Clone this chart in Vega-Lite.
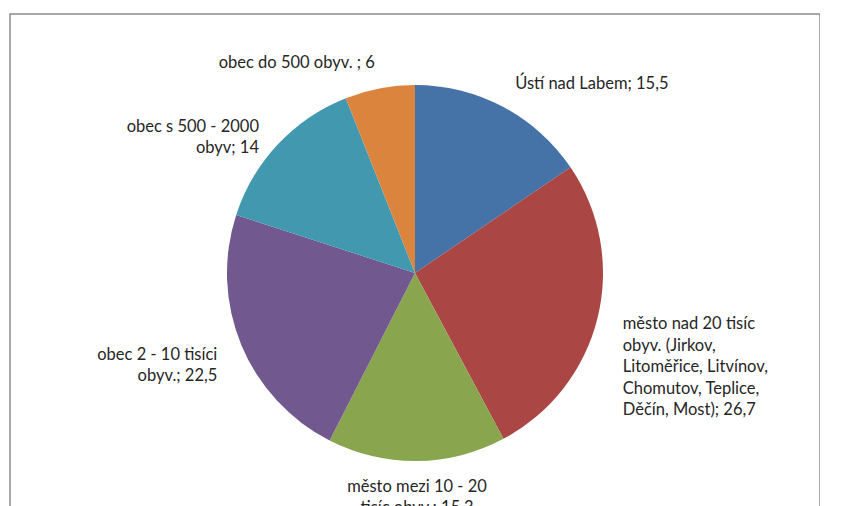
{
  "$schema": "https://vega.github.io/schema/vega-lite/v6.json",
  "width": 810,
  "height": 518,
  "padding": {"left": 10, "top": 14, "right": 0, "bottom": 0},
  "autosize": {"type": "none"},
  "background": "white",
  "view": {"stroke": "#8c8c8c", "strokeWidth": 1.5},
  "data": {
    "values": [
      {"rank": 1, "kategorie": "Ústí nad Labem", "hodnota": 15.5, "label": "Ústí nad Labem; 15,5"},
      {"rank": 2, "kategorie": "město nad 20 tisíc obyv.", "hodnota": 26.7, "label": "město nad 20 tisíc\nobyv. (Jirkov,\nLitoměřice, Litvínov,\nChomutov, Teplice,\nDěčín, Most); 26,7"},
      {"rank": 3, "kategorie": "město mezi 10 - 20 tisíc obyv.", "hodnota": 15.3, "label": "město mezi 10 - 20\ntisíc obyv.; 15,3"},
      {"rank": 4, "kategorie": "obec 2 - 10 tisíci obyv.", "hodnota": 22.5, "label": "obec 2 - 10 tisíci\nobyv.; 22,5"},
      {"rank": 5, "kategorie": "obec s 500 - 2000 obyv", "hodnota": 14, "label": "obec s 500 - 2000\nobyv; 14"},
      {"rank": 6, "kategorie": "obec do 500 obyv.", "hodnota": 6, "label": "obec do 500 obyv. ; 6"}
    ]
  },
  "encoding": {
    "theta": {"field": "hodnota", "type": "quantitative", "stack": true},
    "order": {"field": "rank", "type": "quantitative"}
  },
  "layer": [
    {
      "mark": {"type": "arc", "radius": 188},
      "encoding": {
        "color": {
          "field": "kategorie",
          "type": "nominal",
          "legend": null,
          "scale": {
            "domain": ["Ústí nad Labem", "město nad 20 tisíc obyv.", "město mezi 10 - 20 tisíc obyv.", "obec 2 - 10 tisíci obyv.", "obec s 500 - 2000 obyv", "obec do 500 obyv."],
            "range": ["#4572A7", "#AA4643", "#89A54E", "#71588F", "#4198AF", "#DB843D"]
          }
        }
      }
    },
    {
      "mark": {
        "type": "text",
        "radius": 214,
        "font": "Lato",
        "fontSize": 16.5,
        "color": "#262626",
        "lineBreak": "\n",
        "lineHeight": 21.5,
        "baseline": "middle",
        "align": {"expr": "sin(scale('theta', (datum.hodnota_start + datum.hodnota_end) / 2)) > 0.15 ? 'left' : (sin(scale('theta', (datum.hodnota_start + datum.hodnota_end) / 2)) < -0.15 ? 'right' : 'center')"}
      },
      "encoding": {
        "text": {"field": "label", "type": "nominal"}
      }
    }
  ]
}
